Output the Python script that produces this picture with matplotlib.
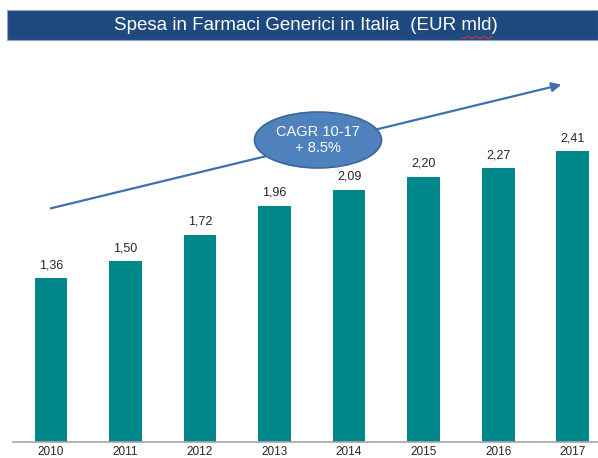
import matplotlib
matplotlib.use("Agg")
import numpy as np
import matplotlib.pyplot as plt
from matplotlib.patches import Rectangle, Ellipse, FancyArrowPatch

years = ["2010", "2011", "2012", "2013", "2014", "2015", "2016", "2017"]
spesa = [1.36, 1.50, 1.72, 1.96, 2.09, 2.20, 2.27, 2.41]
title = "Spesa in Farmaci Generici in Italia  (EUR mld)"
cagr_text = "CAGR 10-17\n+ 8.5%"

FONT = ["Liberation Sans Narrow", "Liberation Sans", "DejaVu Sans"]
W, H = 598, 458
fig = plt.figure(figsize=(W / 100, H / 100), dpi=100)

# main axes: baseline at y=442 px, left at x=13 px
ax = fig.add_axes([13 / W, (H - 442) / H, 1 - 13 / W, 392 / H])
x = list(range(len(years)))
ax.bar(x, spesa, width=0.44, color="#00878A", zorder=2)
ax.set_xlim(-0.51, 7.34)
ax.set_ylim(0, 3.25)
for s in ["top", "right", "left"]:
    ax.spines[s].set_visible(False)
ax.spines["bottom"].set_color("#A6A6A6")
ax.spines["bottom"].set_linewidth(1.2)
ax.set_yticks([])
ax.set_xticks(x)
ax.set_xticklabels(years, family=FONT, fontsize=8.5, color="#262626")
ax.tick_params(axis="x", length=0, pad=3)
for xi, v in zip(x, spesa):
    ax.annotate(f"{v:.2f}".replace(".", ","), (xi, v), xytext=(0, 5),
                textcoords="offset points", ha="center", va="bottom",
                family=FONT, fontsize=9, color="#262626")

# overlay in pixel coordinates
ov = fig.add_axes([0, 0, 1, 1])
ov.set_xlim(0, W)
ov.set_ylim(H, 0)
ov.axis("off")
ov.patch.set_alpha(0)

ov.add_patch(Rectangle((7, 10), W - 7, 30, facecolor="#1F4A80",
                       edgecolor="#8FA8C8", linewidth=0.8))
t = ov.text(306, 25.5, title, ha="center", va="center", color="white",
            family=FONT, fontsize=13.5)

# red spell-check squiggle under "mld"
fig.canvas.draw()
r = fig.canvas.get_renderer()
bb = t.get_window_extent(r)
def text_w(s):
    tt = ov.text(0, 0, s, family=FONT, fontsize=13.5)
    w = tt.get_window_extent(r).width
    tt.remove()
    return w
pre = text_w("Spesa in Farmaci Generici in Italia  (EUR ")
mw = text_w("mld")
x0 = bb.x0 + pre
xs = np.linspace(x0, x0 + mw, 40)
ys = 37.5 + 0.9 * np.sin((xs - x0) / 1.3)
ov.plot(xs, ys, color="#E03030", linewidth=0.8, zorder=6)

arrow = FancyArrowPatch((48, 209), (564, 84), arrowstyle="-|>",
                        mutation_scale=14, color="#3F6FB0", linewidth=1.6,
                        zorder=3)
ov.add_patch(arrow)
ov.add_patch(Ellipse((318, 140), 127, 56, facecolor="#4F81BD",
                     edgecolor="#3A679E", linewidth=1.2, zorder=4))
ov.text(318, 140, cagr_text, ha="center", va="center", color="white",
        family=FONT, fontsize=10.5, linespacing=1.15, zorder=5)

fig.savefig("out.png", dpi=100)
